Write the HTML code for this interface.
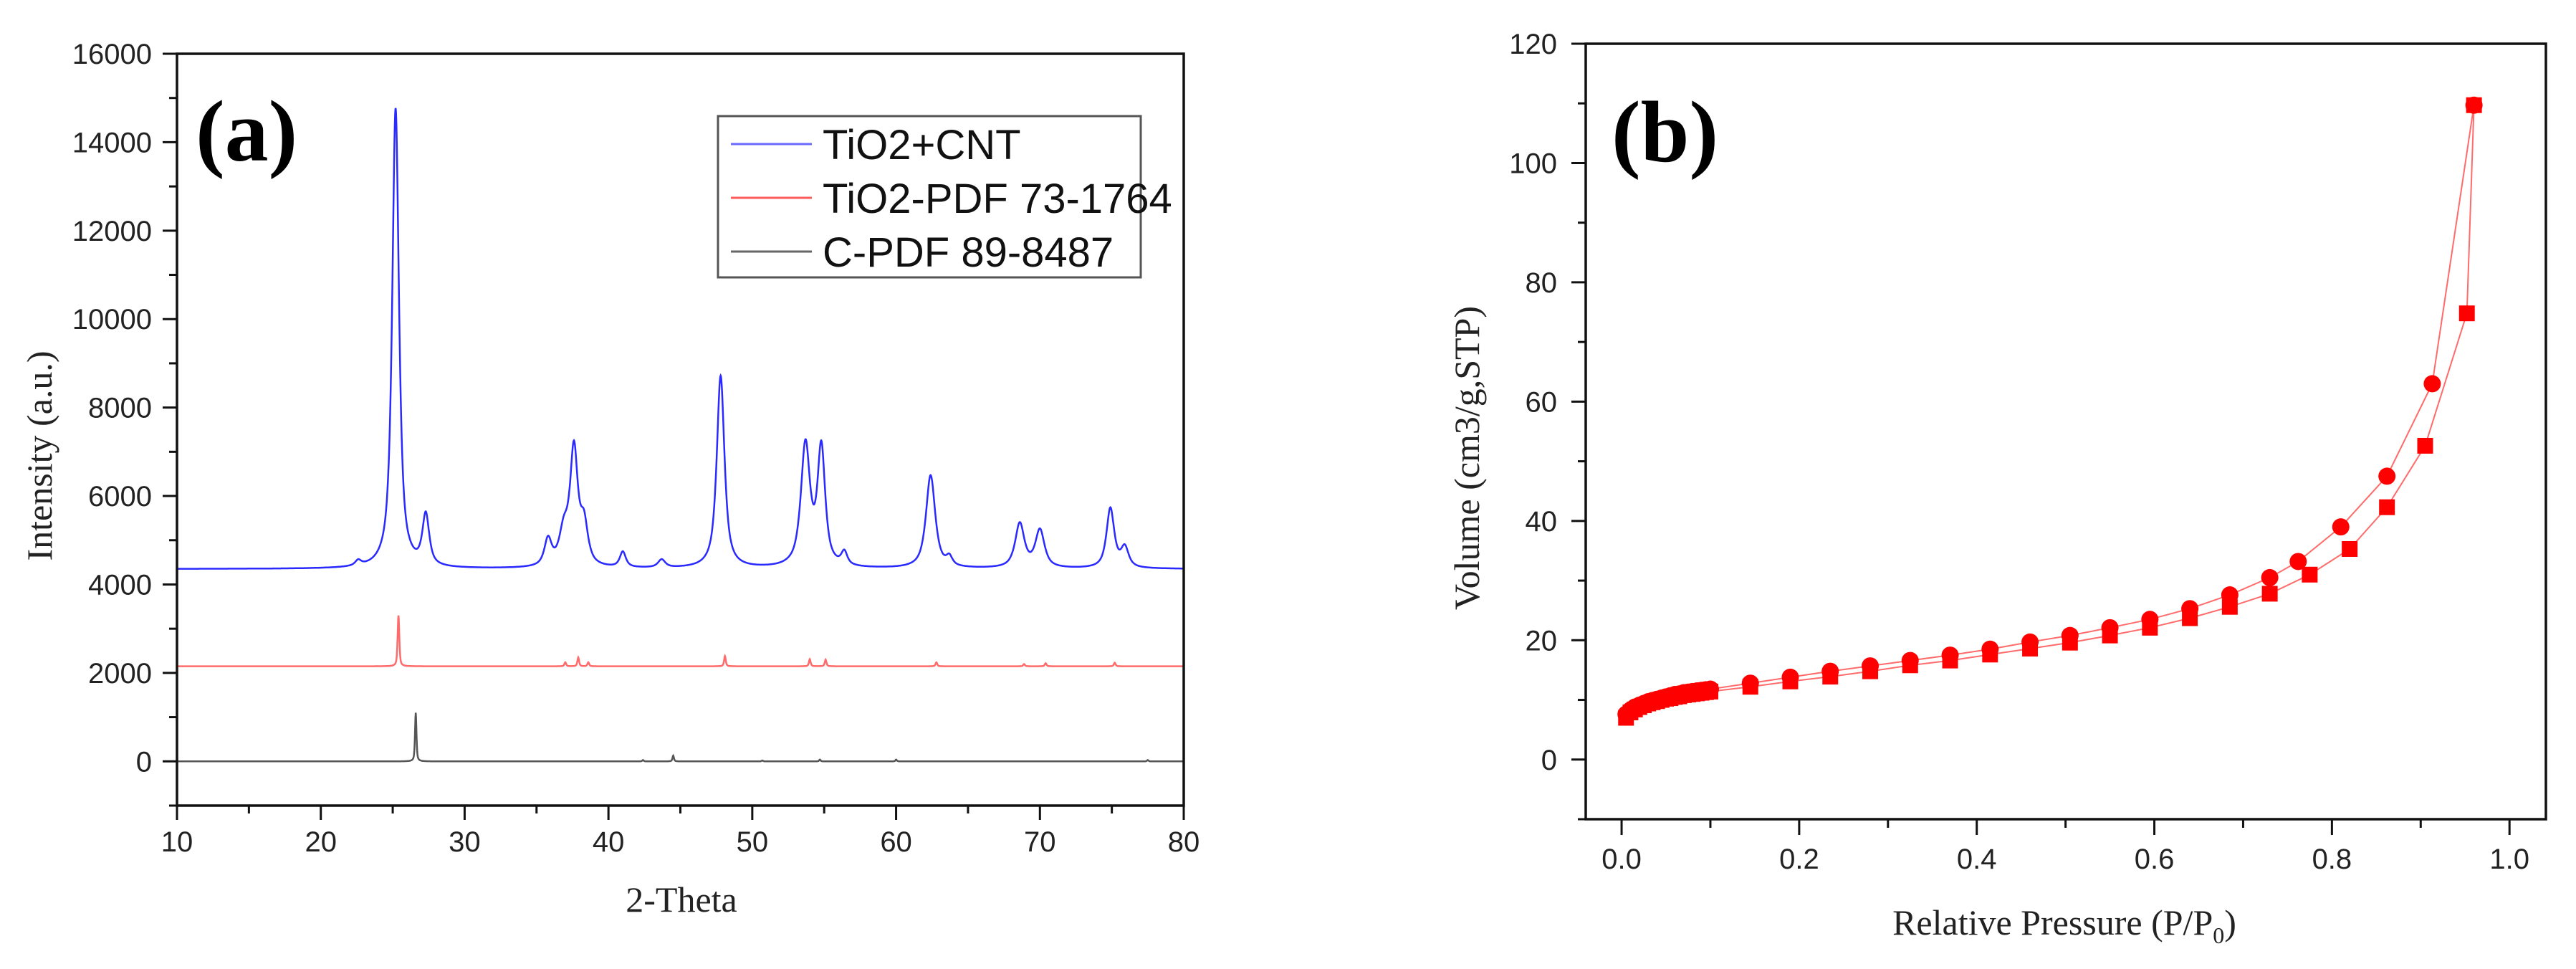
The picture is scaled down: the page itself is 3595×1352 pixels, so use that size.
<!DOCTYPE html>
<html><head><meta charset="utf-8"><style>
html,body{margin:0;padding:0;background:#fff;}
svg{display:block;}
.tk{font-family:"Liberation Sans",sans-serif;font-size:40px;fill:#222;}
.ti{font-family:"Liberation Serif",serif;font-size:50px;fill:#222;}
.pl{font-family:"Liberation Serif",serif;font-size:122px;font-weight:bold;fill:#000;}
.lg{font-family:"Liberation Sans",sans-serif;font-size:58px;fill:#111;}
</style></head><body>
<svg id="fig" width="3595" height="1352" viewBox="0 0 3595 1352" xmlns="http://www.w3.org/2000/svg">
<rect width="3595" height="1352" fill="#fff"/>
<g id="pa"></g>
<g id="pb"></g>
</svg>
<script>
// ---- XRD data (peak lists: position 2θ, height above baseline, half-width) ----
const blueBase = 4350;
const bluePos = [22.6, 25.2, 27.3, 35.8, 36.9, 37.6, 38.3, 41.0, 43.7, 47.8, 53.7, 54.8, 56.4, 62.4, 63.7, 68.6, 70.0, 74.9, 75.9];
const blueHt  = [120, 10400, 1150, 600, 750, 2600, 900, 350, 180, 4350, 2750, 2650, 300, 2100, 200, 1000, 850, 1350, 450];
const blueW   = [0.25, 0.28, 0.28, 0.3, 0.38, 0.32, 0.32, 0.25, 0.3, 0.32, 0.38, 0.32, 0.25, 0.38, 0.25, 0.38, 0.38, 0.32, 0.32];
const redBase = 2150;
const redPos = [25.4, 37.0, 37.9, 38.6, 48.1, 54.0, 55.1, 62.8, 68.9, 70.4, 75.2];
const redHt  = [1150, 90, 200, 90, 230, 160, 150, 90, 50, 70, 80];
const blackBase = 0;
const blackPos = [26.6, 42.4, 44.5, 50.7, 54.7, 60.0, 77.5];
const blackHt  = [1100, 30, 130, 20, 40, 40, 30];
const xTicksA = [10,20,30,40,50,60,70,80];
const yTicksA = [0,2000,4000,6000,8000,10000,12000,14000,16000];
const legendLabels = ["TiO2+CNT","TiO2-PDF 73-1764","C-PDF 89-8487"];
// ---- Isotherm data ----
const adsP = [0.005,0.01,0.015,0.02,0.025,0.03,0.035,0.04,0.045,0.05,0.055,0.06,0.065,0.07,0.075,0.08,0.085,0.09,0.095,0.1,0.145,0.19,0.235,0.28,0.325,0.37,0.415,0.46,0.505,0.55,0.595,0.64,0.685,0.73,0.775,0.82,0.862,0.905,0.952,0.96];
const adsV = [7.0,7.9,8.4,8.8,9.1,9.4,9.6,9.8,10.0,10.2,10.3,10.5,10.6,10.8,10.9,11.0,11.1,11.2,11.3,11.4,12.2,13.1,13.9,14.8,15.8,16.6,17.6,18.6,19.6,20.8,22.1,23.7,25.6,27.8,31.0,35.3,42.3,52.6,74.8,109.7];
const desP = [0.96,0.913,0.862,0.81,0.762,0.73,0.685,0.64,0.595,0.55,0.505,0.46,0.415,0.37,0.325,0.28,0.235,0.19,0.145,0.1,0.095,0.09,0.085,0.08,0.075,0.07,0.065,0.06,0.055,0.05,0.045,0.04,0.035,0.03,0.025,0.02,0.015,0.01,0.005];
const desV = [109.7,63.0,47.5,39.0,33.2,30.5,27.6,25.3,23.5,22.1,20.8,19.7,18.5,17.5,16.6,15.7,14.8,13.8,12.8,11.8,11.7,11.6,11.5,11.4,11.3,11.2,11.0,10.9,10.7,10.5,10.3,10.1,9.9,9.7,9.4,9.1,8.8,8.3,7.6];
const xTicksB = [0,0.2,0.4,0.6,0.8,1.0];
const yTicksB = [0,20,40,60,80,100,120];

const NS="http://www.w3.org/2000/svg";
function mk(parent,tag,attrs,text){const e=document.createElementNS(NS,tag);for(const k in attrs)e.setAttribute(k,attrs[k]);if(text!==undefined)e.textContent=text;parent.appendChild(e);return e;}

// ===== Panel A =====
const A={l:247,r:1652,t:75,b:1124,x0:10,x1:80,y0:-1000,y1:16000};
const xa=v=>A.l+(v-A.x0)/(A.x1-A.x0)*(A.r-A.l);
const ya=v=>A.b-(v-A.y0)/(A.y1-A.y0)*(A.b-A.t);
const pa=document.getElementById('pa');
function profile(base,pos,ht,w,defW,lf){
  const pts=[];
  for(let x=10;x<=80.0001;x+=0.02){
    let y=base;
    for(let i=0;i<pos.length;i++){const hw=w?w[i]:defW;const d=(x-pos[i])/hw;y+=ht[i]*(lf/(1+d*d)+(1-lf)*Math.exp(-0.693*d*d));}
    pts.push(xa(x).toFixed(1)+','+ya(y).toFixed(1));
  }
  return pts.join(' ');
}
let e;
e=mk(pa,'polyline',{points:profile(blackBase,blackPos,blackHt,null,0.06,0.6),fill:'none',stroke:'#555',"stroke-width":2.5});


e=mk(pa,'polyline',{points:profile(redBase,redPos,redHt,null,0.07,0.6),fill:'none',stroke:'#ff6a6a',"stroke-width":2.5});


e=mk(pa,'polyline',{points:profile(blueBase,bluePos,blueHt,blueW,0,0.8),fill:'none',stroke:'#2a2aff',"stroke-width":2.5});


e=mk(pa,'rect',{x:A.l,y:A.t,width:A.r-A.l,height:A.b-A.t,fill:'none',stroke:'#111',"stroke-width":3.5});


for(let v=-1000;v<=16000;v+=1000){const maj=v%2000===0;mk(pa,'line',{x1:A.l-(maj?20:11),x2:A.l,y1:ya(v),y2:ya(v),stroke:'#111',"stroke-width":3});}
for(let v=10;v<=80;v+=5){const maj=v%10===0;mk(pa,'line',{x1:xa(v),x2:xa(v),y1:A.b,y2:A.b+(maj?20:11),stroke:'#111',"stroke-width":3});}
yTicksA.forEach(v=>{e=mk(pa,'text',{x:A.l-35,y:ya(v)+14,"text-anchor":"end",class:'tk'},String(v));

});
xTicksA.forEach(v=>{e=mk(pa,'text',{x:xa(v),y:1188,"text-anchor":"middle",class:'tk'},String(v));

});
e=mk(pa,'text',{x:951,y:1272,"text-anchor":"middle",class:'ti'},'2-Theta');


e=mk(pa,'text',{x:0,y:0,"text-anchor":"middle",class:'ti',transform:'translate(72,636) rotate(-90)'},'Intensity (a.u.)');


e=mk(pa,'text',{x:273,y:224,class:'pl'},'(a)');


const lg=mk(pa,'g',{});


mk(lg,'rect',{x:1002,y:162,width:590,height:225,fill:'#fff',stroke:'#555',"stroke-width":3});
const lcols=['#6a6aff','#ff5a5a','#666'];
const lys=[201,276,351];
legendLabels.forEach((t,i)=>{
  const g=mk(lg,'g',{});
  
  
  mk(g,'line',{x1:1020,x2:1133,y1:lys[i],y2:lys[i],stroke:lcols[i],"stroke-width":3});
  mk(g,'text',{x:1148,y:lys[i]+21,class:'lg'},t);
});

// ===== Panel B =====
const B={l:2213,r:3553,t:61,b:1143,x0:-0.0404,x1:1.041,y0:-10,y1:120};
const xb=v=>B.l+(v-B.x0)/(B.x1-B.x0)*(B.r-B.l);
const yb=v=>B.b-(v-B.y0)/(B.y1-B.y0)*(B.b-B.t);
const pb=document.getElementById('pb');
e=mk(pb,'polyline',{points:adsP.map((p,i)=>xb(p)+','+yb(adsV[i])).join(' '),fill:'none',stroke:'#ff6b6b',"stroke-width":2});


e=mk(pb,'polyline',{points:desP.map((p,i)=>xb(p)+','+yb(desV[i])).join(' '),fill:'none',stroke:'#ff6b6b',"stroke-width":2});


adsP.forEach((p,i)=>{e=mk(pb,'rect',{x:xb(p)-11,y:yb(adsV[i])-11,width:22,height:22,fill:'#ff0000'});

});
desP.forEach((p,i)=>{e=mk(pb,'circle',{cx:xb(p),cy:yb(desV[i]),r:12,fill:'#ff0000'});

});
e=mk(pb,'rect',{x:B.l,y:B.t,width:B.r-B.l,height:B.b-B.t,fill:'none',stroke:'#111',"stroke-width":3.5});


for(let v=-10;v<=120;v+=10){const maj=v%20===0;mk(pb,'line',{x1:B.l-(maj?20:11),x2:B.l,y1:yb(v),y2:yb(v),stroke:'#111',"stroke-width":3});}
for(let k=0;k<=10;k++){const v=k/10;const maj=k%2===0;mk(pb,'line',{x1:xb(v),x2:xb(v),y1:B.b,y2:B.b+(maj?22:12),stroke:'#111',"stroke-width":3});}
yTicksB.forEach(v=>{e=mk(pb,'text',{x:B.l-40,y:yb(v)+14,"text-anchor":"end",class:'tk'},String(v));

});
xTicksB.forEach(v=>{e=mk(pb,'text',{x:xb(v),y:1212,"text-anchor":"middle",class:'tk'},v.toFixed(1));

});
e=mk(pb,'text',{x:2881,y:1304,"text-anchor":"middle",class:'ti'},'Relative Pressure (P/P');


const tt=e;
mk(tt,'tspan',{"font-size":"32","dy":"12"},'0');
mk(tt,'tspan',{"dy":"-12"},')');
e=mk(pb,'text',{x:0,y:0,"text-anchor":"middle",class:'ti',transform:'translate(2064,639) rotate(-90)'},'Volume (cm3/g,STP)');


e=mk(pb,'text',{x:2249,y:225,class:'pl'},'(b)');


</script>
</body></html>
